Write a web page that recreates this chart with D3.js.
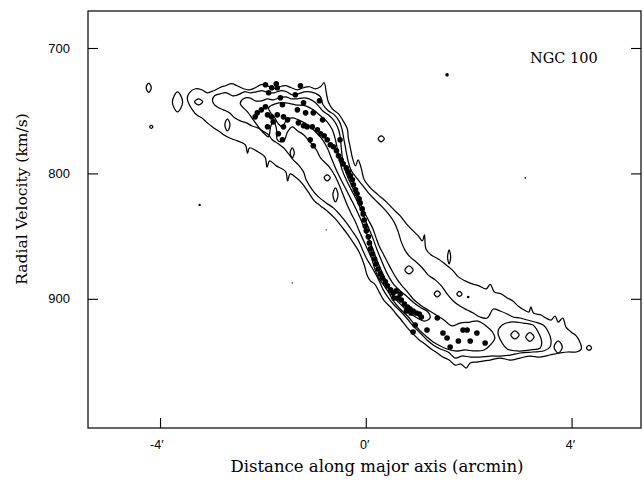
<!DOCTYPE html>
<html>
<head>
<meta charset="utf-8">
<script src="https://cdn.jsdelivr.net/npm/d3@7"></script>
<style>
  html, body { margin: 0; padding: 0; background: #fff; }
  svg { display: block; }
</style>
</head>
<body>
<script>
// ---------- data (offset in arcmin, radial velocity in km/s) ----------
const xTicks = [-4, 0, 4];
const xTickLabels = ["-4\u2032", "0\u2032", "4\u2032"];
const yTicks = [700, 800, 900];
const yTickLabels = ["700", "800", "900"];
const xTitle = "Distance along major axis (arcmin)";
const yTitle = "Radial Velocity (km/s)";
const galaxyName = "NGC 100";

const contourLevel1 = [
  [-3.47,740.5],[-3.43,735.7],[-3.31,732.5],[-3.19,733.3],[-3.08,735.7],[-2.96,734.1],[-2.84,731.7],[-2.73,730.1],
  [-2.61,728.5],[-2.50,730.1],[-2.38,732.5],[-2.26,733.3],[-2.15,731.7],[-2.03,729.3],[-1.91,730.1],[-1.80,732.5],
  [-1.68,730.9],[-1.56,730.1],[-1.45,731.7],[-1.33,733.3],[-1.21,731.7],[-1.10,730.9],[-0.98,732.5],[-0.88,730.9],
  [-0.81,727.7],[-0.77,734.9],[-0.73,742.9],[-0.65,748.5],[-0.53,752.5],[-0.44,758.1],[-0.36,764.4],[-0.34,771.6],
  [-0.30,779.6],[-0.26,787.6],[-0.20,794.0],[-0.15,789.2],[-0.09,795.6],[-0.03,805.1],[0.09,811.5],[0.24,817.1],
  [0.40,822.7],[0.53,828.3],[0.67,833.9],[0.79,840.3],[0.90,845.0],[1.02,849.8],[1.10,853.8],[1.14,849.0],
  [1.17,860.2],[1.27,865.0],[1.41,868.2],[1.54,872.2],[1.68,876.9],[1.80,882.5],[1.93,885.7],[2.07,888.1],
  [2.20,889.7],[2.34,892.1],[2.42,888.5],[2.50,894.5],[2.63,896.1],[2.75,899.3],[2.86,901.7],[2.96,905.7],
  [3.08,908.9],[3.17,910.5],[3.21,906.5],[3.26,911.3],[3.41,912.9],[3.50,915.3],[3.60,916.9],[3.68,913.7],
  [3.74,918.5],[3.83,915.3],[3.89,922.4],[3.99,926.4],[4.09,929.6],[4.17,935.2],[4.19,940.0],[4.09,942.4],
  [3.93,942.4],[3.78,943.2],[3.58,944.8],[3.39,946.4],[3.19,945.6],[3.00,947.2],[2.81,948.8],[2.61,947.2],
  [2.42,948.8],[2.28,949.6],[2.15,950.4],[2.03,951.2],[1.95,955.2],[1.85,952.0],[1.74,952.8],[1.62,948.8],
  [1.50,946.4],[1.39,943.2],[1.27,940.0],[1.15,936.0],[1.04,932.8],[0.92,928.0],[0.81,923.2],[0.69,916.9],
  [0.59,912.1],[0.48,906.5],[0.36,901.7],[0.26,894.5],[0.17,888.1],[0.09,885.7],[0.03,881.7],[-0.03,873.0],
  [-0.13,862.6],[-0.24,855.4],[-0.36,848.2],[-0.48,841.9],[-0.59,836.3],[-0.73,830.7],[-0.88,825.9],[-1.00,821.9],
  [-1.12,814.7],[-1.23,808.3],[-1.35,803.5],[-1.47,800.4],[-1.52,806.0],[-1.56,798.4],[-1.74,794.0],[-1.87,790.0],
  [-1.92,795.0],[-1.96,787.0],[-2.13,782.0],[-2.26,779.6],[-2.30,784.0],[-2.34,777.2],[-2.50,774.0],[-2.61,772.4],
  [-2.73,770.0],[-2.84,766.8],[-2.96,763.6],[-3.08,759.7],[-3.19,755.7],[-3.29,753.3],[-3.37,749.3],[-3.43,745.3]
];

const contourLevel2 = [
  [-2.98,742.1],[-2.94,738.1],[-2.83,736.5],[-2.71,735.7],[-2.59,738.1],[-2.48,737.3],[-2.36,734.9],[-2.24,735.7],
  [-2.13,734.9],[-2.01,734.1],[-1.89,735.7],[-1.78,735.7],[-1.66,734.1],[-1.54,734.9],[-1.43,737.3],[-1.31,736.5],
  [-1.19,734.9],[-1.08,734.9],[-0.96,736.5],[-0.88,738.9],[-0.83,745.3],[-0.73,750.1],[-0.61,753.3],[-0.51,758.9],
  [-0.46,765.2],[-0.42,774.0],[-0.38,782.8],[-0.34,790.8],[-0.28,798.0],[-0.18,803.5],[-0.07,809.1],[0.05,815.5],
  [0.18,821.1],[0.32,826.7],[0.44,832.3],[0.55,838.7],[0.63,846.6],[0.69,854.6],[0.77,861.8],[0.86,866.6],
  [0.98,870.6],[1.10,875.4],[1.21,880.9],[1.35,884.9],[1.47,889.7],[1.58,896.1],[1.70,901.7],[1.83,905.7],
  [1.97,908.9],[2.09,911.3],[2.22,914.5],[2.36,915.3],[2.48,908.1],[2.61,909.7],[2.75,912.1],[2.86,914.5],
  [3.00,915.3],[3.14,916.9],[3.29,918.5],[3.45,920.9],[3.54,925.6],[3.60,932.8],[3.58,938.4],[3.45,941.6],
  [3.25,942.4],[3.00,943.2],[2.81,944.8],[2.61,945.6],[2.42,945.6],[2.22,946.4],[2.03,946.4],[1.87,945.6],
  [1.74,947.2],[1.60,942.4],[1.45,940.0],[1.31,936.8],[1.19,932.8],[1.06,927.2],[0.92,921.6],[0.81,916.1],
  [0.67,909.7],[0.55,904.9],[0.44,899.3],[0.34,892.9],[0.26,885.7],[0.17,878.6],[0.09,873.0],[0.01,867.4],
  [-0.07,860.2],[-0.15,853.0],[-0.24,847.4],[-0.36,840.3],[-0.50,833.1],[-0.63,827.5],[-0.77,823.5],[-0.92,818.7],
  [-1.04,813.1],[-1.16,805.1],[-1.21,798.8],[-1.31,793.2],[-1.41,789.2],[-1.50,784.4],[-1.60,779.6],[-1.70,776.4],
  [-1.82,773.2],[-1.89,769.2],[-2.01,766.0],[-2.11,763.6],[-2.22,762.0],[-2.32,759.7],[-2.44,758.1],[-2.55,755.7],
  [-2.65,751.7],[-2.77,749.3],[-2.86,747.7],[-2.94,745.3]
];

const contourLevel3 = [
  [-2.44,744.5],[-2.38,740.5],[-2.26,739.7],[-2.15,742.1],[-2.03,742.1],[-1.91,740.5],[-1.80,741.3],[-1.68,739.7],
  [-1.56,738.9],[-1.45,740.5],[-1.33,740.5],[-1.21,739.7],[-1.10,740.5],[-1.00,742.9],[-0.92,746.1],[-0.84,750.1],
  [-0.73,753.3],[-0.63,757.3],[-0.55,762.8],[-0.50,770.0],[-0.48,778.0],[-0.46,786.0],[-0.42,794.0],[-0.36,802.0],
  [-0.28,809.1],[-0.20,816.3],[-0.11,823.5],[-0.03,830.7],[0.05,837.1],[0.13,843.4],[0.20,851.4],[0.26,857.8],
  [0.34,864.2],[0.42,870.6],[0.50,876.9],[0.59,883.3],[0.69,888.9],[0.81,894.5],[0.92,900.1],[1.06,904.9],
  [1.21,908.9],[1.37,912.9],[1.52,916.9],[1.68,921.6],[1.83,919.3],[2.03,918.5],[2.18,917.7],[2.34,921.6],
  [2.46,926.4],[2.51,931.2],[2.42,936.8],[2.30,940.8],[2.12,941.6],[1.93,940.8],[1.74,941.6],[1.58,940.0],
  [1.45,937.6],[1.31,934.4],[1.19,930.4],[1.06,925.6],[0.94,920.1],[0.83,914.5],[0.67,908.1],[0.55,902.5],
  [0.46,896.1],[0.36,889.7],[0.24,882.5],[0.17,875.4],[0.11,867.4],[0.03,860.2],[-0.05,853.0],[-0.13,845.8],
  [-0.20,838.7],[-0.28,832.3],[-0.36,825.1],[-0.44,817.1],[-0.51,809.9],[-0.59,802.7],[-0.71,794.8],[-0.88,787.6],
  [-0.96,781.2],[-1.04,777.2],[-1.12,773.2],[-1.21,769.2],[-1.33,766.0],[-1.43,762.8],[-1.52,766.8],[-1.58,773.2],
  [-1.66,774.8],[-1.72,773.2],[-1.74,763.6],[-1.80,758.1],[-1.85,762.8],[-1.89,770.8],[-1.97,768.4],[-2.09,762.8],
  [-2.20,756.5],[-2.30,750.9],[-2.38,747.7]
];

const contourLevel4 = [
  [-1.89,747.7],[-1.76,744.5],[-1.56,743.7],[-1.37,745.3],[-1.17,746.1],[-1.02,749.3],[-0.88,754.1],[-0.75,758.9],
  [-0.65,765.2],[-0.59,773.2],[-0.55,781.2],[-0.51,789.2],[-0.46,797.2],[-0.38,805.1],[-0.28,813.1],[-0.18,821.1],
  [-0.09,829.1],[-0.01,837.1],[0.07,845.0],[0.15,853.0],[0.22,861.0],[0.30,869.0],[0.38,876.9],[0.46,883.3],
  [0.55,888.9],[0.67,893.7],[0.81,898.5],[0.94,903.3],[1.08,907.3],[1.21,910.5],[1.25,915.3],[1.14,917.7],
  [1.00,915.3],[0.86,911.3],[0.73,906.5],[0.61,901.7],[0.51,896.1],[0.44,889.7],[0.36,882.5],[0.28,875.4],
  [0.20,867.4],[0.13,859.4],[0.05,851.4],[-0.03,843.4],[-0.11,835.5],[-0.20,827.5],[-0.30,819.5],[-0.40,811.5],
  [-0.50,803.5],[-0.59,795.6],[-0.67,787.6],[-0.75,779.6],[-0.84,773.2],[-0.96,767.6],[-1.08,762.8],[-1.19,759.7],
  [-1.31,757.3],[-1.43,755.7],[-1.54,757.3],[-1.62,762.8],[-1.70,760.5],[-1.78,754.9],[-1.85,751.7]
];

// small closed contours (each: top, right, bottom, left points)
const contourIslands = [
  [[-4.22,728.0],[-4.17,731.7],[-4.22,735.3],[-4.27,731.7]],
  [[-4.17,761.6],[-4.14,762.8],[-4.17,764.0],[-4.20,762.8]],
  [[-3.66,735.0],[-3.56,743.0],[-3.66,751.0],[-3.76,743.0]],
  [[-3.25,740.5],[-3.17,742.9],[-3.25,745.3],[-3.33,742.9]],
  [[-2.69,756.5],[-2.64,761.3],[-2.69,766.1],[-2.74,761.3]],
  [[-1.43,779.6],[-1.39,783.6],[-1.43,787.6],[-1.47,783.6]],
  [[-0.75,801.1],[-0.69,803.5],[-0.75,805.9],[-0.81,803.5]],
  [[-0.59,811.5],[-0.54,817.1],[-0.59,822.7],[-0.64,817.1]],
  [[0.30,770.0],[0.36,772.4],[0.30,774.8],[0.24,772.4]],
  [[0.84,873.8],[0.92,877.0],[0.84,880.2],[0.76,877.0]],
  [[1.62,861.0],[1.65,866.6],[1.62,872.2],[1.59,866.6]],
  [[1.39,893.7],[1.45,896.1],[1.39,898.5],[1.33,896.1]],
  [[1.82,894.1],[1.87,896.1],[1.82,898.1],[1.77,896.1]],
  [[3.74,933.6],[3.82,938.4],[3.74,943.2],[3.66,938.4]],
  [[4.34,937.2],[4.39,939.2],[4.34,941.2],[4.29,939.2]],
  [[2.90,925.6],[2.98,928.8],[2.90,932.0],[2.82,928.8]],
  [[3.19,926.9],[3.27,930.4],[3.19,933.9],[3.11,930.4]]
];

// level-3 island in the receding arm
const contourLevel3Island = [
  [2.57,926.4],[2.65,920.9],[2.81,918.5],[3.06,919.3],[3.25,920.9],[3.35,926.4],[3.42,934.4],
  [3.39,939.2],[3.19,940.8],[2.94,941.6],[2.75,940.0],[2.65,935.2]
];

// H-alpha rotation-curve points
const opticalPoints = [
  [-1.95,729.3],[-1.74,728.5],[-1.72,731.7],[-1.89,735.7],[-1.27,730.1],[-1.37,737.3],[-1.66,739.7],[-1.62,745.3],
  [-1.21,743.7],[-0.90,742.1],[-2.11,751.7],[-2.15,754.9],[-1.95,746.9],[-1.91,753.3],[-1.72,753.3],[-1.60,754.9],
  [-1.52,757.3],[-1.80,758.9],[-1.91,762.8],[-1.60,762.8],[-1.70,768.4],[-1.62,773.2],[-1.33,749.3],[-1.17,751.7],
  [-1.31,759.7],[-1.21,762.0],[-1.14,762.8],[-1.04,762.8],[-0.94,765.2],[-0.84,757.3],[-1.08,773.2],[-1.02,778.0],
  [-0.50,773.2],[-1.83,731.7],[-1.02,751.7],[-1.83,754.9],[-2.03,749.3],
  [-0.88,768.4],[-0.81,770.0],[-0.75,773.2],[-0.69,777.2],[-0.63,778.8],[-0.57,782.0],[-0.53,786.0],[-0.48,789.2],
  [-0.44,792.4],[-0.38,795.6],[-0.34,798.8],[-0.30,802.0],[-0.26,805.1],[-0.24,809.1],[-0.20,813.1],[-0.17,816.3],
  [-0.13,820.3],[-0.11,823.5],[-0.07,828.3],[-0.05,832.3],[-0.03,837.1],[-0.01,841.9],[0.01,845.8],[0.05,850.6],
  [0.07,855.4],[0.09,860.2],[0.13,864.2],[0.17,868.2],[0.20,872.2],[0.24,876.2],[0.28,880.1],[0.32,883.3],
  [0.38,886.5],[0.42,889.7],[0.48,892.9],[0.53,895.3],[0.59,893.7],[0.67,896.1],[0.63,899.3],[0.55,899.3],
  [0.69,900.9],[0.75,904.1],[0.81,906.5],[0.86,908.1],[0.92,909.7],[0.98,911.3],[1.04,912.1],[0.88,911.3],
  [1.08,914.5],[0.79,909.7],
  [0.96,920.9],[0.92,926.4],[1.19,924.8],[1.39,915.3],[1.50,927.2],[1.64,938.4],[1.58,931.2],[1.80,933.6],
  [1.89,924.8],[1.97,924.8],[2.03,933.6],[2.16,927.2],[2.32,935.2]
];

// isolated specks
const specks = [[1.58,721.4,1.8],[3.10,803.5,0.9],[-3.23,825.1,1.2],[-0.77,845.0,0.7],[-1.43,887.3,0.7],[1.99,898.5,1.3]];

// ---------- drawing ----------
const W = 643, H = 481;
const svg = d3.select("body").append("svg").attr("width", W).attr("height", H);

const x = d3.scaleLinear().domain([-5.4, 5.35]).range([88, 641]);
const y = d3.scaleLinear().domain([670.5, 1003]).range([11, 428]);

const line = d3.line().x(d => x(d[0])).y(d => y(d[1])).curve(d3.curveCatmullRomClosed.alpha(0.5));

const g = svg.append("g");
const contours = [contourLevel1, contourLevel2, contourLevel3, contourLevel4, contourLevel3Island].concat(contourIslands);
g.selectAll("path.contour").data(contours).enter().append("path")
  .attr("class", "contour")
  .attr("d", line)
  .attr("fill", "none")
  .attr("stroke", "#000")
  .attr("stroke-width", 1.25)
  .attr("stroke-linejoin", "round");

g.selectAll("circle.pt").data(opticalPoints).enter().append("circle")
  .attr("class", "pt")
  .attr("cx", d => x(d[0])).attr("cy", d => y(d[1])).attr("r", 2.8)
  .attr("fill", "#000");

g.selectAll("circle.speck").data(specks).enter().append("circle")
  .attr("class", "speck")
  .attr("cx", d => x(d[0])).attr("cy", d => y(d[1])).attr("r", d => d[2])
  .attr("fill", "#000");

// frame
svg.append("rect")
  .attr("x", x.range()[0]).attr("y", y.range()[0])
  .attr("width", x.range()[1] - x.range()[0]).attr("height", y.range()[1] - y.range()[0])
  .attr("fill", "none").attr("stroke", "#000").attr("stroke-width", 1.2);

// axes
const axB = svg.append("g").attr("transform", `translate(0,${y.range()[1]})`)
  .call(d3.axisBottom(x).tickValues(xTicks).tickSizeInner(-10).tickSizeOuter(0).tickPadding(12)
    .tickFormat((d, i) => xTickLabels[i]));
axB.select(".domain").remove();
axB.selectAll("text").attr("text-anchor", "end").attr("dx", 3)
  .style("font-family", "'Liberation Sans', Arial, sans-serif").style("font-size", "12.5px").attr("fill", "#000");

const axL = svg.append("g").attr("transform", `translate(${x.range()[0]},0)`)
  .call(d3.axisLeft(y).tickValues(yTicks).tickSizeInner(-10).tickSizeOuter(0).tickPadding(18)
    .tickFormat((d, i) => yTickLabels[i]));
axL.select(".domain").remove();
axL.selectAll("text").style("font-family", "'Liberation Sans', Arial, sans-serif").style("font-size", "13px").attr("fill", "#000");

const axR = svg.append("g").attr("transform", `translate(${x.range()[1]},0)`)
  .call(d3.axisRight(y).tickValues(yTicks).tickSizeInner(-10).tickSizeOuter(0).tickFormat(""));
axR.select(".domain").remove();

svg.selectAll(".tick line").attr("stroke", "#000").attr("stroke-width", 1.1);

// titles
svg.append("text").attr("x", 377).attr("y", 472).attr("text-anchor", "middle")
  .style("font-family", "'DejaVu Serif', serif").style("font-size", "16.5px").text(xTitle);
svg.append("text").attr("transform", "translate(27,199) rotate(-90)").attr("text-anchor", "middle")
  .style("font-family", "'DejaVu Serif', serif").style("font-size", "15.5px").text(yTitle);
svg.append("text").attr("x", 530).attr("y", 63)
  .style("font-family", "'DejaVu Serif', serif").style("font-size", "14.5px").text(galaxyName);
</script>
</body>
</html>
